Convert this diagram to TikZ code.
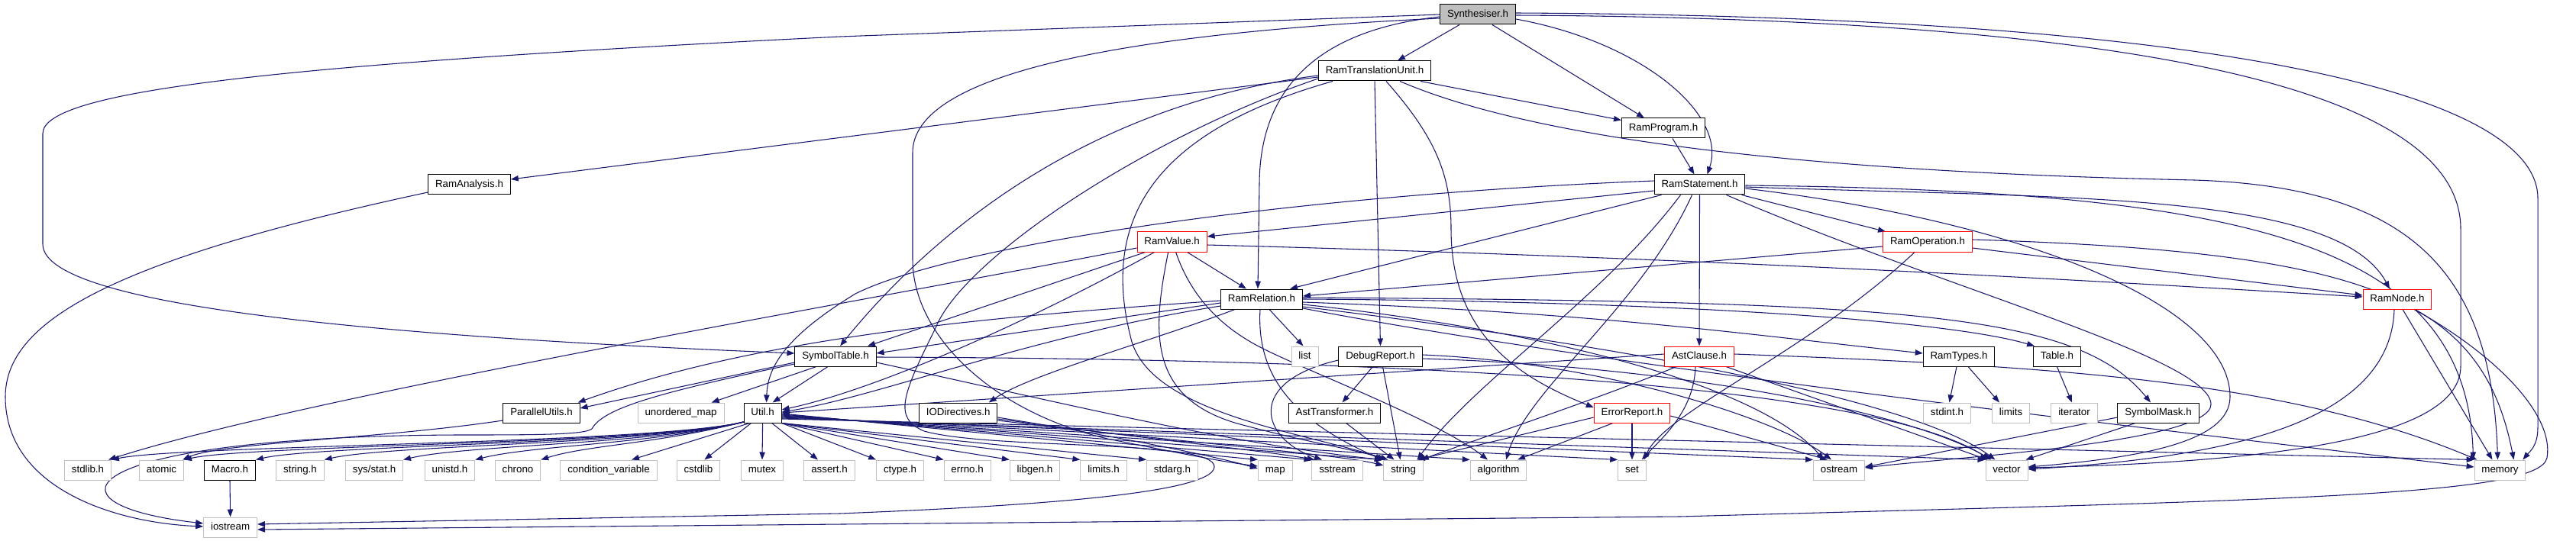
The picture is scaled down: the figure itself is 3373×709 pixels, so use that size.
\documentclass[tikz,border=0pt]{standalone}
\usepackage{fontspec}
\setmainfont{Liberation Sans}
\usetikzlibrary{arrows.meta}
\pgfdeclarelayer{bg}
\pgfsetlayers{bg,main}
\definecolor{edgec}{HTML}{191970}
\definecolor{sysgray}{HTML}{BFBFBF}
\definecolor{redb}{HTML}{FF0000}
\begin{document}
\begin{tikzpicture}[x=0.75pt,y=-0.75pt,
  box/.style={draw=black, fill=white, line width=0.75pt, inner xsep=7pt, inner ysep=0pt,
    minimum height=19.5pt, text height=7.3pt, text depth=2pt, font=\fontsize{10}{12}\selectfont},
  doc/.style={box},
  redn/.style={box, draw=redb},
  sys/.style={box, draw=sysgray},
  e/.style={draw=edgec, line width=0.8pt, -{Triangle[length=7.5pt,width=5.5pt]}}]
\useasboundingbox (0,0) rectangle (3373,709);
% nodes
\node[doc,fill=sysgray] (syn) at (1935,19) {Synthesiser.h};
\node[doc] (rtu) at (1800,93) {RamTranslationUnit.h};
\node[doc] (rprog) at (2178,168) {RamProgram.h};
\node[doc] (rana) at (614.5,242) {RamAnalysis.h};
\node[doc] (rstmt) at (2225.5,242) {RamStatement.h};
\node[redn] (rval) at (1534.6,317) {RamValue.h};
\node[redn] (rop) at (2524,317) {RamOperation.h};
\node[doc] (rrel) at (1652,392) {RamRelation.h};
\node[redn] (rnode) at (3139,392) {RamNode.h};
\node[doc] (symt) at (1094,467) {SymbolTable.h};
\node[sys] (list) at (1708.5,467) {list};
\node[doc] (dbg) at (1807.5,467) {DebugReport.h};
\node[redn] (astc) at (2225,467) {AstClause.h};
\node[doc] (rtypes) at (2565,467) {RamTypes.h};
\node[doc] (table) at (2693.4,467) {Table.h};
\node[doc] (putil) at (709,541) {ParallelUtils.h};
\node[sys] (umap) at (891.6,541) {unordered\_map};
\node[doc] (util) at (998.6,541) {Util.h};
\node[doc] (iod) at (1254.7,541) {IODirectives.h};
\node[doc] (asttr) at (1747.5,541) {AstTransformer.h};
\node[redn] (err) at (2137,541) {ErrorReport.h};
\node[sys] (stdint) at (2549.4,541) {stdint.h};
\node[sys] (limits) at (2633,541) {limits};
\node[sys] (iter) at (2716,541) {iterator};
\node[doc] (smask) at (2826,541) {SymbolMask.h};
\node[sys] (stdlibh) at (115,616) {stdlib.h};
\node[sys] (atomic) at (211.5,616) {atomic};
\node[doc] (macro) at (301,616) {Macro.h};
\node[sys] (stringh) at (393,616) {string.h};
\node[sys] (sysstat) at (490,616) {sys/stat.h};
\node[sys] (unistd) at (589,616) {unistd.h};
\node[sys] (chrono) at (678,616) {chrono};
\node[sys] (condvar) at (797,616) {condition\_variable};
\node[sys] (cstdlib) at (914.4,616) {cstdlib};
\node[sys] (mutex) at (998,616) {mutex};
\node[sys] (asserth) at (1086,616) {assert.h};
\node[sys] (ctypeh) at (1178.5,616) {ctype.h};
\node[sys] (errnoh) at (1266.6,616) {errno.h};
\node[sys] (libgen) at (1355,616) {libgen.h};
\node[sys] (limitsh) at (1445,616) {limits.h};
\node[sys] (stdarg) at (1535,616) {stdarg.h};
\node[sys] (map) at (1669.7,616) {map};
\node[sys] (sstream) at (1751,616) {sstream};
\node[sys] (string) at (1837.6,616) {string};
\node[sys] (algo) at (1962,616) {algorithm};
\node[sys] (set) at (2137,616) {set};
\node[sys] (ostream) at (2408,616) {ostream};
\node[sys] (vector) at (2627.5,616) {vector};
\node[sys] (memory) at (3273.5,616) {memory};
\node[sys] (iostream) at (301.6,691) {iostream};
\begin{pgfonlayer}{bg}
\fill[white] (0,0) rectangle (3373,709);
% Synthesiser
\draw[e] ([shift={(-24,0)}]syn.south) -- ([shift={(30,0)}]rtu.north);
\draw[e] ([shift={(19,0)}]syn.south) -- ([shift={(-25,0)}]rprog.north);
\draw[e] ([shift={(0,6)}]syn.east) .. controls (2150,55) and (2262,150) .. ([shift={(10,0)}]rstmt.north);
\draw[e] ([shift={(0,3)}]syn.west) .. controls (1720,40) and (1650,120) .. (1649,240) -- ([shift={(-5,0)}]rrel.north);
\draw[e] (syn.west) -- (1100,48) .. controls (350,85) and (56,120) .. (56,175) -- (56,320) .. controls (56,410) and (600,445) .. ([shift={(0,-4)}]symt.west);
\draw[e] ([shift={(0,5)}]syn.west) .. controls (1450,45) and (1195,100) .. (1195,200) -- (1195,340) .. controls (1195,440) and (1300,540) .. (1450,575) .. controls (1550,595) and (1600,605) .. ([shift={(0,-5)}]map.west);
\draw[e] ([shift={(0,1)}]syn.east) .. controls (2900,25) and (3222,140) .. (3222,300) -- (3222,480) .. controls (3222,570) and (3000,605) .. ([shift={(0,-3)}]vector.east);
\draw[e] ([shift={(0,-2)}]syn.east) .. controls (2950,22) and (3323,130) .. (3323,260) -- (3323,560) .. controls (3323,585) and (3312,592) .. ([shift={(-4,0)}]memory.north east);
% RamTranslationUnit
\draw[e] ([shift={(60,0)}]rtu.south) -- ([shift={(0,3)}]rprog.north west);
\draw[e] ([shift={(0,8)}]rtu.west) -- ([shift={(0,-7)}]rana.east);
\draw[e] (rtu.south) -- (dbg.north);
\draw[e] ([shift={(15,0)}]rtu.south) .. controls (1880,180) and (1900,230) .. (1900,300) .. controls (1900,440) and (1990,495) .. ([shift={(0,-7)}]err.west);
\draw[e] ([shift={(33,0)}]rtu.south) .. controls (2050,200) and (2500,228) .. (2873,236) .. controls (3150,245) and (3262,350) .. ([shift={(-3,0)}]memory.north);
\draw[e] ([shift={(0,6)}]rtu.west) .. controls (1400,140) and (1200,330) .. ([shift={(6,0)}]symt.north);
\draw[e] ([shift={(0,10)}]rtu.west) .. controls (1500,180) and (1260,340) .. (1225,430) .. controls (1180,520) and (1170,548) .. (1210,565) .. controls (1300,590) and (1592,575) .. (1590,612) .. controls (1588,650) and (1300,665) .. (1100,673) -- ([shift={(0,-4)}]iostream.east);
\draw[e] ([shift={(-55,0)}]rtu.south) .. controls (1520,170) and (1440,280) .. (1480,440) .. controls (1500,540) and (1700,565) .. ([shift={(-20,0)}]string.north);
% RamProgram, RamAnalysis
\draw[e] ([shift={(12,0)}]rprog.south) -- ([shift={(-7,0)}]rstmt.north);
\draw[e] ([shift={(0,10)}]rana.west) .. controls (150,340) and (7,420) .. (7,520) .. controls (7,640) and (150,685) .. ([shift={(0,-1)}]iostream.west);
% RamStatement
\draw[e] ([shift={(0,8)}]rstmt.west) -- ([shift={(0,-7)}]rval.east);
\draw[e] ([shift={(-50,0)}]rstmt.south) -- ([shift={(37,0)}]rrel.north);
\draw[e] ([shift={(0,-5)}]rstmt.west) .. controls (1700,255) and (1250,320) .. (1120,385) .. controls (1030,440) and (1005,480) .. ([shift={(5,0)}]util.north);
\draw[e] (rstmt.south) -- (astc.north);
\draw[e] ([shift={(55,0)}]rstmt.south) -- ([shift={(-55,0)}]rop.north);
\draw[e] ([shift={(0,3)}]rstmt.east) .. controls (2700,260) and (3060,250) .. ([shift={(-10,0)}]rnode.north);
\draw[e] ([shift={(0,1)}]rstmt.east) .. controls (2950,250) and (3230,320) .. ([shift={(-35,0)}]memory.north);
\draw[e] ([shift={(0,5)}]rstmt.east) .. controls (2650,290) and (2920,400) .. (2920,520) .. controls (2920,580) and (2800,600) .. ([shift={(0,-4)}]vector.east);
\draw[e] ([shift={(35,0)}]rstmt.south) .. controls (2550,380) and (2895,470) .. (2895,530) .. controls (2895,580) and (2550,600) .. ([shift={(0,-3)}]ostream.east);
\draw[e] ([shift={(-25,0)}]rstmt.south) .. controls (2100,390) and (1930,500) .. ([shift={(18,0)}]string.north);
\draw[e] ([shift={(-10,0)}]rstmt.south) .. controls (2150,400) and (2000,510) .. ([shift={(10,0)}]algo.north);
% RamValue
\draw[e] ([shift={(20,0)}]rval.south) -- ([shift={(-20,0)}]rrel.north);
\draw[e] ([shift={(0,4)}]rval.east) .. controls (2300,340) and (2800,372) .. ([shift={(0,-3)}]rnode.west);
\draw[e] ([shift={(0,8)}]rval.west) .. controls (1100,400) and (400,520) .. ([shift={(-4,0)}]stdlibh.north east);
\draw[e] ([shift={(-35,0)}]rval.south) -- ([shift={(42,0)}]symt.north);
\draw[e] ([shift={(-23,0)}]rval.south) .. controls (1350,420) and (1150,510) .. ([shift={(0,-4)}]util.east);
\draw[e] ([shift={(-5,0)}]rval.south) .. controls (1510,430) and (1500,520) .. (1620,555) .. controls (1720,582) and (1780,590) .. ([shift={(-24,0)}]string.north);
\draw[e] ([shift={(5,0)}]rval.south) .. controls (1560,390) and (1600,430) .. (1654,457) .. controls (1720,490) and (1880,550) .. ([shift={(-14,0)}]algo.north);
% RamOperation
\draw[e] ([shift={(0,6)}]rop.west) -- ([shift={(0,-4)}]rrel.east);
\draw[e] ([shift={(0,8)}]rop.east) -- ([shift={(0,-5)}]rnode.west);
\draw[e] ([shift={(-17,0)}]rop.south) .. controls (2370,460) and (2180,540) .. ([shift={(-3,0)}]set.north east);
\draw[e] ([shift={(0,-3)}]rop.east) .. controls (3100,330) and (3250,390) .. ([shift={(18,0)}]memory.north);
% RamRelation
\draw[e] ([shift={(10,0)}]rrel.south) -- ([shift={(-2,0)}]list.north);
\draw[e] ([shift={(0,5)}]rrel.west) -- ([shift={(0,-4)}]symt.east);
\draw[e] ([shift={(0,9)}]rrel.west) .. controls (1350,440) and (1150,520) .. ([shift={(0,-1)}]util.east);
\draw[e] ([shift={(0,2)}]rrel.west) .. controls (1300,415) and (1000,440) .. ([shift={(-3,0)}]putil.north east);
\draw[e] ([shift={(-35,0)}]rrel.south) .. controls (1500,450) and (1350,490) .. ([shift={(40,0)}]iod.north);
\draw[e] ([shift={(0,4)}]rrel.east) .. controls (2100,410) and (2300,440) .. ([shift={(0,-4)}]rtypes.west);
\draw[e] (rrel.east) .. controls (2200,395) and (2550,420) .. ([shift={(2,0)}]table.north west);
\draw[e] ([shift={(0,-2)}]rrel.east) .. controls (2500,395) and (2720,410) .. ([shift={(-10,0)}]smask.north);
\draw[e] ([shift={(0,7)}]rrel.east) .. controls (2000,430) and (2300,500) .. ([shift={(-20,0)}]ostream.north);
\draw[e] ([shift={(0,10)}]rrel.east) .. controls (2100,450) and (2500,520) .. ([shift={(-15,0)}]vector.north);
\draw[e] ([shift={(0,12)}]rrel.east) .. controls (2100,480) and (2800,560) .. ([shift={(0,-4)}]memory.west);
\draw[e] ([shift={(-2,0)}]rrel.south) .. controls (1645,490) and (1690,550) .. ([shift={(-27,0)}]string.north);
% AstClause
\draw[e] ([shift={(0,-3)}]astc.west) -- (util.east);
\draw[e] ([shift={(-30,0)}]astc.south) .. controls (2100,520) and (1950,570) .. ([shift={(-3,0)}]string.north east);
\draw[e] ([shift={(-5,0)}]astc.south) .. controls (2218,540) and (2175,575) .. ([shift={(-6,0)}]set.north east);
\draw[e] ([shift={(35,0)}]astc.south) -- ([shift={(-25,0)}]vector.north);
\draw[e] ([shift={(0,-3)}]astc.east) .. controls (2700,480) and (3000,500) .. ([shift={(-30,0)}]memory.north);
% DebugReport, AstTransformer, ErrorReport
\draw[e] ([shift={(-10,0)}]dbg.south) -- ([shift={(10,0)}]asttr.north);
\draw[e] ([shift={(3,0)}]dbg.south) -- ([shift={(-4,0)}]string.north);
\draw[e] ([shift={(0,5)}]dbg.west) .. controls (1630,500) and (1650,575) .. ([shift={(-20,0)}]sstream.north);
\draw[e] ([shift={(0,-2)}]dbg.east) .. controls (2100,475) and (2330,550) .. ([shift={(-10,0)}]ostream.north);
\draw[e] ([shift={(0,3)}]dbg.east) .. controls (2200,480) and (2500,540) .. ([shift={(-20,0)}]vector.north);
\draw[e] ([shift={(15,0)}]asttr.south) -- ([shift={(-12,0)}]string.north);
\draw[e] (err.south) -- (set.north);
\draw[e] ([shift={(-25,0)}]err.south) -- ([shift={(25,0)}]algo.north);
\draw[e] ([shift={(0,6)}]err.west) -- ([shift={(-8,0)}]string.north east);
\draw[e] ([shift={(0,4)}]err.east) -- ([shift={(-15,0)}]ostream.north);
% RamNode
\draw[e] ([shift={(-4,0)}]rnode.south) .. controls (3130,560) and (2900,600) .. ([shift={(0,-1)}]vector.east);
\draw[e] ([shift={(7,0)}]rnode.south) -- ([shift={(-10,0)}]memory.north);
\draw[e] ([shift={(22,0)}]rnode.south) .. controls (3260,460) and (3345,540) .. (3335,600) .. controls (3325,650) and (3000,655) .. (2200,677) -- ([shift={(0,3)}]iostream.east);
% SymbolTable
\draw[e] ([shift={(0,8)}]symt.west) -- ([shift={(0,-6)}]putil.east);
\draw[e] ([shift={(-25,0)}]symt.south) -- ([shift={(40,0)}]umap.north);
\draw[e] ([shift={(-10,0)}]symt.south) -- ([shift={(13,0)}]util.north);
\draw[e] ([shift={(0,10)}]symt.west) .. controls (860,515) and (790,535) .. (775,562) .. controls (765,570) and (700,570) .. (600,570) .. controls (100,572) and (40,660) .. ([shift={(0,-5)}]iostream.west);
\draw[e] ([shift={(0,8)}]symt.east) .. controls (1400,530) and (1600,580) .. ([shift={(-28,0)}]string.north);
\draw[e] ([shift={(0,1)}]symt.east) .. controls (1800,470) and (2450,500) .. ([shift={(-22,0)}]vector.north);
% ParallelUtils
\draw[e] ([shift={(0,10)}]putil.west) .. controls (500,575) and (290,580) .. ([shift={(-2,0)}]atomic.north east);
% Util
\foreach \t/\c in {stdlibh/240,atomic/330,macro/420,stringh/510,sysstat/610,unistd/700,chrono/770}{
  \draw[e] ([shift={(2,-2)}]util.south west) .. controls (860,582) and (\c,583) .. (\t.north east);}
\draw[e] ([shift={(8,0)}]util.south west) -- ([shift={(30,0)}]condvar.north);
\draw[e] ([shift={(-15,0)}]util.south) -- ([shift={(8,0)}]cstdlib.north);
\draw[e] (util.south) -- (mutex.north);
\draw[e] ([shift={(12,0)}]util.south) -- ([shift={(-15,0)}]asserth.north);
\foreach \t in {ctypeh,errnoh,libgen,limitsh,stdarg}{
  \draw[e] (util.south east) -- (\t.north west);}
\foreach \t/\s in {map/1,sstream/2,string/3,algo/4,set/5,ostream/6,vector/7,memory/8}{
  \draw[e] ([shift={(0,\s)}]util.east) -- (\t.north west);}
% IODirectives
\draw[e] ([shift={(0,6)}]iod.east) .. controls (1450,570) and (1580,595) .. ([shift={(0,-2)}]map.west);
\draw[e] ([shift={(0,8)}]iod.east) .. controls (1500,575) and (1650,590) .. ([shift={(4,0)}]sstream.north west);
\draw[e] ([shift={(0,10)}]iod.east) .. controls (1550,580) and (1750,595) .. ([shift={(0,-6)}]string.west);
% small ones
\draw[e] (macro.south) -- (iostream.north);
\draw[e] ([shift={(-3,0)}]rtypes.south) -- ([shift={(3,0)}]stdint.north);
\draw[e] ([shift={(12,0)}]rtypes.south) -- ([shift={(-15,0)}]limits.north);
\draw[e] (table.south) -- ([shift={(-3,0)}]iter.north);
\draw[e] ([shift={(0,6)}]smask.west) -- ([shift={(0,-4)}]ostream.east);
\draw[e] ([shift={(-30,0)}]smask.south) -- ([shift={(-3,0)}]vector.north east);
\end{pgfonlayer}
\end{tikzpicture}
\end{document}
